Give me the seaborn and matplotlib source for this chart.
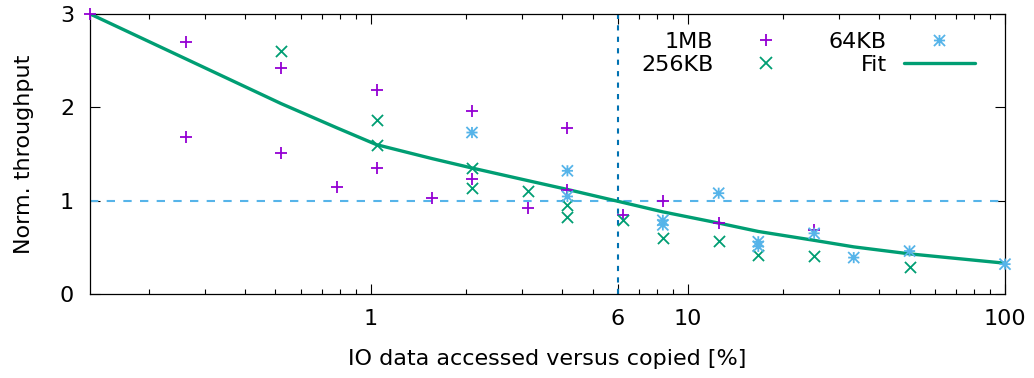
import matplotlib
matplotlib.use("Agg")
import matplotlib.pyplot as plt
import matplotlib.ticker as mticker
from matplotlib.path import Path
from matplotlib.lines import Line2D
import seaborn as sns

# Share of IO data accessed versus copied (%), per transfer size
x_1mb = [0.1302, 0.2604, 0.2604, 0.5208, 0.5208, 0.7813, 1.0417, 1.0417, 1.5625,
         2.0833, 2.0833, 3.125, 4.1667, 4.1667, 6.25, 8.3333, 12.5, 25.0]
y_1mb = [3.00, 2.70, 1.68, 2.42, 1.51, 1.15, 2.19, 1.35, 1.03,
         1.965, 1.23, 0.925, 1.775, 1.115, 0.845, 1.00, 0.76, 0.69]

x_256kb = [0.5208, 1.0417, 1.0417, 2.0833, 2.0833, 3.125, 4.1667, 4.1667,
           6.25, 8.3333, 12.5, 16.667, 25.0, 50.0]
y_256kb = [2.60, 1.865, 1.60, 1.35, 1.14, 1.10, 0.955, 0.82,
           0.79, 0.60, 0.57, 0.42, 0.41, 0.29]

x_64kb = [2.0833, 4.1667, 4.1667, 8.3333, 8.3333, 12.5, 16.667, 16.667,
          25.0, 33.333, 50.0, 100.0]
y_64kb = [1.73, 1.32, 1.045, 0.79, 0.74, 1.08, 0.56, 0.51,
          0.65, 0.39, 0.46, 0.32]

# Fitted throughput curve
x_fit = [0.1302, 0.2604, 0.5208, 0.7813, 1.0417, 1.5625, 2.0833, 3.125, 4.1667,
         6.25, 8.3333, 12.5, 16.667, 25.0, 33.333, 50.0, 100.0]
y_fit = [3.00, 2.52, 2.04, 1.78, 1.60, 1.45, 1.35, 1.215, 1.12,
         0.98, 0.88, 0.76, 0.67, 0.575, 0.505, 0.43, 0.33]

x_major = [1, 6, 10, 100]
x_major_labels = ["1", "6", "10", "100"]
x_minor = [0.2, 0.3, 0.4, 0.5, 0.6, 0.7, 0.8, 0.9,
           2, 3, 4, 5, 7, 8, 9,
           20, 30, 40, 50, 60, 70, 80, 90]
y_major = [0, 1, 2, 3]

sns.set_style("ticks")
plt.rcParams["font.family"] = ["DejaVu Sans"]
plt.rcParams["font.size"] = 16
for key in ("text.color", "axes.labelcolor", "xtick.color", "ytick.color",
            "axes.edgecolor"):
    plt.rcParams[key] = "black"

PURPLE = "#9400d3"
GREEN = "#009e73"
SKY = "#56b4e9"
BLUE = "#0072b2"

# asterisk marker: plus and cross overlaid
ASTERISK = Path(
    [(-1, 0), (1, 0), (0, -1), (0, 1), (-1, -1), (1, 1), (-1, 1), (1, -1)],
    [Path.MOVETO, Path.LINETO] * 4,
)

fig = plt.figure(figsize=(10.34, 3.78), dpi=100)
ax = fig.add_axes([90 / 1034, 1 - 294 / 378, 915 / 1034, 280 / 378])

ax.axhline(1, color=SKY, lw=1.5, dashes=(4, 4), zorder=1)
ax.axvline(6, color=BLUE, lw=1.5, dashes=(2.5, 3), zorder=1)

sns.lineplot(x=x_fit, y=y_fit, ax=ax, color=GREEN, lw=2.4,
             estimator=None, zorder=3)

MS = 64
sns.scatterplot(x=x_1mb, y=y_1mb, ax=ax, marker="+", color=PURPLE, s=MS,
                linewidth=1.3, clip_on=False, zorder=4)
sns.scatterplot(x=x_256kb, y=y_256kb, ax=ax, marker="x", color=GREEN, s=MS,
                linewidth=1.3, clip_on=False, zorder=4)
sns.scatterplot(x=x_64kb, y=y_64kb, ax=ax, marker=ASTERISK, s=MS,
                facecolor="none", edgecolor=SKY, linewidth=1.3,
                clip_on=False, zorder=4)

ax.set_xscale("log")
ax.set_xlim(0.13, 100)
ax.set_ylim(0, 3)

ax.xaxis.set_major_locator(mticker.FixedLocator(x_major))
ax.xaxis.set_major_formatter(mticker.FixedFormatter(x_major_labels))
ax.xaxis.set_minor_locator(mticker.FixedLocator(x_minor))
ax.xaxis.set_minor_formatter(mticker.NullFormatter())
ax.yaxis.set_major_locator(mticker.FixedLocator(y_major))
ax.yaxis.set_minor_locator(mticker.NullLocator())

ax.tick_params(which="both", direction="in", top=True, right=True,
               width=0.8, color="black")
ax.tick_params(which="major", length=7.5)
ax.tick_params(which="minor", length=3.8)
ax.tick_params(axis="x", which="major", pad=10.5)
ax.tick_params(axis="y", which="major", pad=11.5)

for side in ax.spines.values():
    side.set_visible(True)
    side.set_linewidth(0.9)
    side.set_color("black")

ax.set_xlabel("IO data accessed versus copied [%]")
ax.set_ylabel("Norm. throughput")
ax.xaxis.set_label_coords(0.5, -0.196)
ax.yaxis.set_label_coords(-0.061, 0.5)

handles = [
    Line2D([], [], ls="none", marker="+", ms=8, mew=1.3, color=PURPLE),
    Line2D([], [], ls="none", marker="x", ms=8, mew=1.3, color=GREEN),
    Line2D([], [], ls="none", marker=ASTERISK, ms=8, mew=1.3,
           mfc="none", mec=SKY),
    Line2D([], [], color=GREEN, lw=2.4),
]
labels = ["1MB", "256KB", "64KB", "Fit"]
ax.legend(handles, labels, ncol=2, markerfirst=False, frameon=False,
          loc="upper right", bbox_to_anchor=(0.967, 0.936),
          borderaxespad=0, borderpad=0, handlelength=3.2,
          handletextpad=0.75, columnspacing=1.25, labelspacing=0.13)

fig.savefig("out.png", dpi=100)
